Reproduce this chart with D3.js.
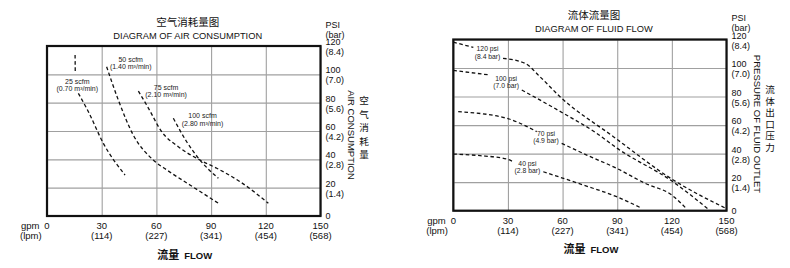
<!DOCTYPE html>
<html>
<head>
<meta charset="utf-8">
<script src="https://cdn.jsdelivr.net/npm/d3@7"></script>
<style>
  body { margin: 0; background: #fff; }
  svg { display: block; font-family: 'Liberation Sans', Arial, sans-serif; }
</style>
</head>
<body>
<svg id="chart" width="790" height="268"></svg>
<script>
const flowTicks = [0, 30, 60, 90, 120, 150];
const lpmLabels = ['', '(114)', '(227)', '(341)', '(454)', '(568)'];
const psiTicks = [0, 20, 40, 60, 80, 100, 120];
const barLabels = ['', '(1.4)', '(2.8)', '(4.2)', '(5.6)', '(7.0)', '(8.4)'];

// [gpm, psi], null = where the dashes break for a label
const air25 = [[15.4, 113.7], [15.5, 100.7], null, [17.2, 86.6], [22.7, 73.6], [30.9, 51.3], [42.8, 28.9]];
const air50 = [[32.7, 105.4], [39.1, 81.9], [47.3, 57.2], [58.3, 39.5], [65.7, 32.5], [78.4, 21.9], [94, 9]];
const air75 = [[50.1, 88.2], [55.6, 76.2], [62.9, 59.5], [72, 48.9], [83.9, 39.5], [93.1, 33.7], [105.9, 24.2], [121.4, 9]];
const air100 = [[69.3, 69], [76.6, 52.4], [83.9, 39.5], [94, 26.6]];
const airNames = ['25 scfm', '50 scfm', '75 scfm', '100 scfm'];
const airUnits = ['(0.70 m³/min)', '(1.40 m³/min)', '(2.10 m³/min)', '(2.80 m³/min)'];
const airLabelAt = [[16.6, 95], [45.9, 110.6], [65.3, 90.8], [85.3, 70.8]];

const fluid120 = [[0, 118.2], [11, 114.4], null, [27.3, 106.8], [39.4, 103.3], [47.6, 93.9], [58.6, 79.9], [87.9, 51.9], [120.8, 21.5], [149.2, 1.9]];
const fluid100 = [[0, 98.3], [20.2, 95.1], null, [37.6, 84.6], [60.4, 68.3], [78.7, 54.3], [89.7, 44], [120.8, 20.1], [139.9, 1.2]];
const fluid70 = [[2.7, 69.4], [29.3, 64.8], [36.6, 61.3], [45.8, 55.4], null, [59.5, 47.2], [73.3, 39], [89.7, 29.7], [105.3, 19.2], [119.9, 11], [127.8, 1.7]];
const fluid40 = [[0, 39.7], [14.7, 38.6], [29.3, 36.2], [33, 34.3], null, [49.4, 27.3], [71.4, 18], [89.7, 9.8], [103.5, 1.7]];
const fluidNames = ['120 psi', '100 psi', '70 psi', '40 psi'];
const fluidUnits = ['(8.4 bar)', '(7.0 bar)', '(4.9 bar)', '(2.8 bar)'];
const fluidLabelAt = [[18.8, 113.3], [29, 92.8], [50.9, 54.3], [40.7, 33.2]];

const svg = d3.select('#chart');

const drawChart = (svg, opts) => {
  const x = d3.scaleLinear().domain([0, 150]).range([opts.left, opts.right]);
  const y = d3.scaleLinear().domain([0, 120]).range([opts.bottom, opts.top]);
  const g = svg.append('g');

  // grid
  g.append('g')
      .attr('transform', `translate(0,${opts.bottom})`)
      .call(d3.axisBottom(x).tickValues(flowTicks).tickSize(opts.top - opts.bottom).tickFormat(''))
      .call(a => a.select('.domain').remove())
      .selectAll('line').style('stroke', '#a0a0a0').style('stroke-width', 1.1);
  g.append('g')
      .attr('transform', `translate(${opts.left},0)`)
      .call(d3.axisLeft(y).tickValues(psiTicks).tickSize(opts.left - opts.right).tickFormat(''))
      .call(a => a.select('.domain').remove())
      .selectAll('line').style('stroke', '#a0a0a0').style('stroke-width', 1.1);

  g.append('rect')
      .attr('x', opts.left).attr('y', opts.top)
      .attr('width', opts.right - opts.left).attr('height', opts.bottom - opts.top)
      .style('fill', 'none').style('stroke', '#111').style('stroke-width', 2.2);

  // curves
  const line = d3.line()
      .defined((d) => d)
      .x((d) => x(d[0]))
      .y((d) => y(d[1]))
      .curve(d3.curveMonotoneX);

  g.selectAll('path.curve')
      .data(opts.series)
      .enter()
      .append('path')
      .classed('curve', true)
      .attr('d', line)
      .style('fill', 'none')
      .style('stroke', '#111')
      .style('stroke-width', 1.3)
      .style('stroke-dasharray', '3.6,2.6');

  const labels = g.selectAll('g.curve-label')
      .data(opts.names)
      .enter()
      .append('g')
      .classed('curve-label', true)
      .attr('transform', (d, i) => `translate(${x(opts.labelAt[i][0])},${y(opts.labelAt[i][1])})`)
      .style('font-size', opts.labelSize + 'px')
      .style('fill', '#222')
      .attr('text-anchor', 'middle');
  labels.append('text').attr('dy', '0.35em').text((d) => d);
  labels.append('text').attr('y', 7.5).attr('dy', '0.35em').text((d, i) => opts.units[i]);

  // psi / bar ticks on the right
  const yTicks = g.selectAll('g.ytick')
      .data(psiTicks)
      .enter()
      .append('g')
      .attr('transform', (d) => `translate(${opts.right + 5},${y(d)})`)
      .style('font-size', '9px')
      .style('fill', '#111');
  yTicks.append('text').attr('y', (d) => d ? -4 : 0).attr('dy', '0.35em').text((d) => d);
  yTicks.append('text').attr('y', 6).attr('dy', '0.35em').text((d, i) => barLabels[i]);

  g.append('text').attr('x', opts.right + 5).attr('y', opts.top - 21.5).attr('dy', '0.35em')
      .style('font-size', '9px').style('fill', '#111').text('PSI');
  g.append('text').attr('x', opts.right + 5).attr('y', opts.top - 11.5).attr('dy', '0.35em')
      .style('font-size', '9px').style('fill', '#111').text('(bar)');

  // gpm / lpm ticks
  const xTicks = g.selectAll('g.xtick')
      .data(flowTicks)
      .enter()
      .append('g')
      .attr('transform', (d) => `translate(${x(d)},${opts.bottom})`)
      .attr('text-anchor', 'middle')
      .style('font-size', '9.5px')
      .style('fill', '#111');
  xTicks.append('text').attr('y', 10).attr('dy', '0.35em').text((d) => d);
  xTicks.append('text').attr('y', 20).attr('dy', '0.35em').text((d, i) => lpmLabels[i]);

  g.append('text').attr('x', opts.left - 26).attr('y', opts.bottom + 10).attr('dy', '0.35em')
      .style('font-size', '9.5px').style('fill', '#111').text('gpm');
  g.append('text').attr('x', opts.left - 27).attr('y', opts.bottom + 20).attr('dy', '0.35em')
      .style('font-size', '9.5px').style('fill', '#111').text('(lpm)');

  const mid = (opts.left + opts.right) / 2;

  // flow title under the axis
  const flow = g.append('text')
      .attr('x', mid + 1)
      .attr('y', opts.bottom + 37)
      .attr('dy', '0.35em')
      .attr('text-anchor', 'middle')
      .style('fill', '#111');
  flow.append('tspan').style('font-family', "'Noto Sans CJK SC'").style('font-size', '11px').style('font-weight', 'bold').text('流量');
  flow.append('tspan').attr('dx', 5).style('font-size', '9.5px').style('font-weight', 'bold').text('FLOW');

  // chart titles
  g.append('text')
      .attr('x', mid + 4).attr('y', opts.top - 24).attr('dy', '0.35em')
      .attr('text-anchor', 'middle')
      .style('font-family', "'Noto Sans CJK SC'")
      .style('font-size', '10.5px').style('fill', '#111')
      .text(opts.titleCn);
  g.append('text')
      .attr('x', mid + 4).attr('y', opts.top - 10.5).attr('dy', '0.35em')
      .attr('text-anchor', 'middle')
      .style('font-size', '9.3px').style('fill', '#111')
      .text(opts.titleEn);

  // vertical axis names
  g.append('text')
      .attr('transform', `translate(${opts.right + 31},${opts.sideMid}) rotate(90)`)
      .attr('dy', '0.35em')
      .attr('text-anchor', 'middle')
      .style('font-size', '9.5px').style('fill', '#111')
      .text(opts.sideEn);

  const chars = Array.from(opts.sideCn);
  g.selectAll('text.side-cn')
      .data(chars)
      .enter()
      .append('text')
      .classed('side-cn', true)
      .attr('x', opts.right + 43.5)
      .attr('y', (d, i) => opts.sideCnMid + (i - (chars.length - 1) / 2) * opts.sideCnStep)
      .attr('dy', '0.35em')
      .attr('text-anchor', 'middle')
      .style('font-family', "'Noto Sans CJK SC'")
      .style('font-size', '9.6px').style('fill', '#111')
      .text((d) => d);
};

drawChart(svg, {
  left: 47, right: 320.5, top: 46, bottom: 216,
  series: [air25, air50, air75, air100],
  names: airNames, units: airUnits, labelAt: airLabelAt, labelSize: 7,
  titleCn: '空气消耗量图', titleEn: 'DIAGRAM OF AIR CONSUMPTION',
  sideEn: 'AIR CONSUMPTION', sideMid: 135,
  sideCn: '空气消耗量', sideCnMid: 128, sideCnStep: 13.5
});

drawChart(svg, {
  left: 453.3, right: 726.5, top: 39.5, bottom: 210.7,
  series: [fluid120, fluid100, fluid70, fluid40],
  names: fluidNames, units: fluidUnits, labelAt: fluidLabelAt, labelSize: 6.8,
  titleCn: '流体流量图', titleEn: 'DIAGRAM OF FLUID FLOW',
  sideEn: 'PRESSURE OF FLUID OUTLET', sideMid: 124,
  sideCn: '流体出口压力', sideCnMid: 118.5, sideCnStep: 11.5
});
</script>
</body>
</html>
